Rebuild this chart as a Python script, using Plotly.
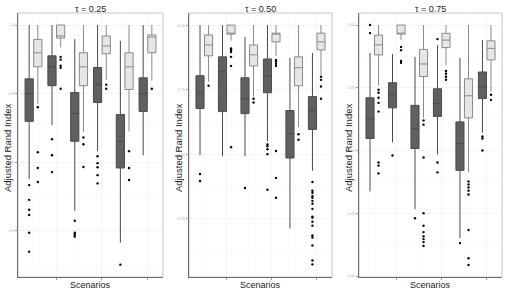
import plotly.graph_objects as go

# ---------------- data ----------------
scenarios = [1, 2, 3, 4, 5, 6]
tau_labels = ["τ = 0.25", "τ = 0.50", "τ = 0.75"]

# tau = 0.25
t25_dark_lo = [0.551, 0.708, 0.458, 0.632, 0.365, 0.620]
t25_dark_q1 = [0.719, 0.823, 0.661, 0.774, 0.583, 0.748]
t25_dark_med = [0.800, 0.878, 0.742, 0.826, 0.661, 0.800]
t25_dark_q3 = [0.843, 0.910, 0.803, 0.876, 0.739, 0.846]
t25_dark_hi = [1.000, 1.000, 0.959, 1.000, 0.954, 1.000]
t25_dark_out = [[0.533, 0.49, 0.461, 0.446, 0.394, 0.339], [0.667, 0.62, 0.571],
                [0.429, 0.394, 0.389, 0.383], [0.617, 0.597, 0.585, 0.562, 0.538],
                [0.301], []]
t25_light_lo = [0.770, 0.935, 0.687, 0.840, 0.690, 0.838]
t25_light_q1 = [0.878, 0.962, 0.823, 0.916, 0.812, 0.919]
t25_light_med = [0.919, 0.968, 0.878, 0.939, 0.878, 0.965]
t25_light_q3 = [0.958, 1.000, 0.919, 0.968, 0.919, 0.971]
t25_light_hi = [1.000, 1.000, 1.000, 1.000, 1.000, 1.000]
t25_light_out = [[0.76, 0.629, 0.583, 0.542], [0.907, 0.899, 0.881, 0.875, 0.814],
                 [0.672, 0.652, 0.586], [0.826, 0.814], [0.632, 0.583, 0.548], [0.814]]

# tau = 0.50
t50_dark_lo = [0.496, 0.492, 0.492, 0.550, 0.212, 0.435]
t50_dark_q1 = [0.677, 0.665, 0.657, 0.738, 0.485, 0.596]
t50_dark_med = [0.738, 0.819, 0.715, 0.804, 0.580, 0.669]
t50_dark_q3 = [0.804, 0.877, 0.796, 0.869, 0.669, 0.723]
t50_dark_hi = [1.000, 1.000, 0.954, 1.000, 0.873, 0.892]
t50_dark_out = [[0.423, 0.396], [], [0.369], [0.538, 0.531, 0.519, 0.5, 0.362], [],
                [0.392, 0.358, 0.35, 0.338, 0.331, 0.319, 0.308, 0.288, 0.258, 0.254,
                 0.238, 0.223, 0.185, 0.177, 0.146, 0.088, 0.073]]
t50_light_lo = [0.780, 0.940, 0.723, 0.880, 0.604, 0.808]
t50_light_q1 = [0.881, 0.965, 0.842, 0.935, 0.765, 0.904]
t50_light_med = [0.923, 0.969, 0.885, 0.965, 0.835, 0.935]
t50_light_q3 = [0.962, 1.000, 0.923, 0.969, 0.877, 0.969]
t50_light_hi = [1.000, 1.000, 1.000, 1.000, 1.000, 1.000]
t50_light_out = [[0.765], [0.91, 0.904, 0.896, 0.877, 0.842, 0.527], [0.715, 0.70],
                 [0.865, 0.858, 0.85, 0.842, 0.512, 0.408, 0.331], [0.577, 0.556],
                 [0.8, 0.788, 0.762, 0.715]]

# tau = 0.75
t75_dark_lo = [0.337, 0.532, 0.266, 0.484, 0.151, 0.571]
t75_dark_q1 = [0.548, 0.670, 0.508, 0.636, 0.421, 0.707]
t75_dark_med = [0.627, 0.722, 0.587, 0.687, 0.527, 0.754]
t75_dark_q3 = [0.710, 0.770, 0.680, 0.746, 0.614, 0.813]
t75_dark_hi = [0.889, 0.885, 0.873, 0.920, 0.869, 0.940]
t75_dark_out = [[1.0, 0.968], [0.48], [0.23], [0.944, 0.452, 0.413], [0.131],
                [0.556, 0.548, 0.5]]
t75_light_lo = [0.758, 0.940, 0.630, 0.840, 0.413, 0.735]
t75_light_q1 = [0.881, 0.964, 0.795, 0.910, 0.630, 0.861]
t75_light_med = [0.921, 0.968, 0.845, 0.940, 0.718, 0.907]
t75_light_q3 = [0.960, 1.000, 0.903, 0.967, 0.786, 0.937]
t75_light_hi = [1.000, 1.000, 1.000, 1.000, 1.000, 1.000]
t75_light_out = [[0.742, 0.73, 0.71, 0.69, 0.655, 0.452, 0.44, 0.409],
                 [0.913, 0.9, 0.857, 0.85],
                 [0.62, 0.603, 0.472, 0.25, 0.2, 0.175, 0.158, 0.147, 0.135, 0.12],
                 [0.817, 0.806, 0.794, 0.782],
                 [0.377, 0.365, 0.353, 0.34, 0.325, 0.183, 0.071, 0.044],
                 [0.722, 0.702]]

y_ticks_25 = [0.4, 0.6, 0.8, 1.0]
y_ticks_50 = [0.25, 0.50, 0.75, 1.00]
y_ticks_75 = [0.00, 0.25, 0.50, 0.75, 1.00]

# ---------------- styling ----------------
W, H = 507, 292
FONT = "Liberation Sans, Arial, sans-serif"
DARK_FILL, DARK_LINE = "#606060", "#4a4a4a"
LIGHT_FILL, LIGHT_LINE = "#e6e6e6", "#8a8a8a"
DODGE, BOXW = 0.19, 0.36

panels = [
    dict(dark=(t25_dark_lo, t25_dark_q1, t25_dark_med, t25_dark_q3, t25_dark_hi, t25_dark_out),
         light=(t25_light_lo, t25_light_q1, t25_light_med, t25_light_q3, t25_light_hi, t25_light_out),
         ticks=y_ticks_25, fmt=".1f", dtick_minor=0.1, yr=[0.265, 1.035], px=(18, 163)),
    dict(dark=(t50_dark_lo, t50_dark_q1, t50_dark_med, t50_dark_q3, t50_dark_hi, t50_dark_out),
         light=(t50_light_lo, t50_light_q1, t50_light_med, t50_light_q3, t50_light_hi, t50_light_out),
         ticks=y_ticks_50, fmt=".2f", dtick_minor=0.125, yr=[0.024, 1.047], px=(189, 332)),
    dict(dark=(t75_dark_lo, t75_dark_q1, t75_dark_med, t75_dark_q3, t75_dark_hi, t75_dark_out),
         light=(t75_light_lo, t75_light_q1, t75_light_med, t75_light_q3, t75_light_hi, t75_light_out),
         ticks=y_ticks_75, fmt=".2f", dtick_minor=0.125, yr=[-0.004, 1.048], px=(359, 502)),
]

top_px, bot_px = 13, 277
fig = go.Figure()
layout = dict(width=W, height=H, margin=dict(l=0, r=0, t=0, b=0),
              paper_bgcolor="white", plot_bgcolor="white", showlegend=False,
              font=dict(family=FONT, color="#1a1a1a"), annotations=[], shapes=[])

for i, p in enumerate(panels):
    n = "" if i == 0 else str(i + 1)
    xa, ya = "x" + n, "y" + n
    for key, off, fill, line in (("dark", -DODGE, DARK_FILL, DARK_LINE),
                                 ("light", DODGE, LIGHT_FILL, LIGHT_LINE)):
        lo, q1, med, q3, hi, out = p[key]
        pos = [s + off for s in scenarios]
        fig.add_trace(go.Box(x=pos, q1=q1, median=med, q3=q3, lowerfence=lo, upperfence=hi,
                             width=BOXW, whiskerwidth=0, fillcolor=fill,
                             line=dict(color=line, width=1), boxpoints=False,
                             xaxis=xa, yaxis=ya, hoverinfo="skip"))
        ox, oy = [], []
        for s, vals in zip(pos, out):
            for v in vals:
                ox.append(s)
                oy.append(v)
        fig.add_trace(go.Scatter(x=ox, y=oy, mode="markers", xaxis=xa, yaxis=ya,
                                 marker=dict(color="black", size=2.4), hoverinfo="skip"))
    x0, x1 = p["px"]
    dom_x = [x0 / W, x1 / W]
    dom_y = [1 - bot_px / H, 1 - top_px / H]
    layout["xaxis" + n] = dict(domain=dom_x, anchor=ya, range=[0.32, 6.68],
                               tickvals=[2, 4, 6], showticklabels=False,
                               ticks="outside", ticklen=2, tickcolor="#999999",
                               showgrid=True, gridcolor="#f0f0f0", gridwidth=0.6,
                               minor=dict(tickvals=[1, 3, 5], showgrid=True,
                                          gridcolor="#f6f6f6", gridwidth=0.5),
                               showline=True, linecolor="#6e6e6e", linewidth=1,
                               zeroline=False)
    layout["yaxis" + n] = dict(domain=dom_y, anchor=xa, range=p["yr"],
                               tickvals=p["ticks"], tickformat=p["fmt"],
                               tickfont=dict(size=4, color="#b0b0b0"),
                               ticks="outside", ticklen=2, tickcolor="#999999",
                               showgrid=True, gridcolor="#f0f0f0", gridwidth=0.6,
                               minor=dict(dtick=p["dtick_minor"], tick0=0, showgrid=True,
                                          gridcolor="#f6f6f6", gridwidth=0.5),
                               showline=True, linecolor="#6e6e6e", linewidth=1,
                               zeroline=False)
    # light panel border (top / right)
    layout["shapes"].append(dict(type="rect", xref=xa + " domain", yref=ya + " domain",
                                 x0=0, x1=1, y0=0, y1=1, line=dict(color="#c4c4c4", width=1),
                                 layer="below"))
    cx = (x0 + x1) / 2 / W
    common = dict(xref="paper", yref="paper", showarrow=False,
                  xanchor="center", yanchor="middle")
    layout["annotations"].append(dict(text=tau_labels[i], x=cx, y=1 - 9 / H,
                                      font=dict(size=9), **common))
    layout["annotations"].append(dict(text="Scenarios", x=cx, y=1 - 285 / H,
                                      font=dict(size=9), **common))
    layout["annotations"].append(dict(text="Adjusted Rand Index", x=(x0 - 11) / W,
                                      y=1 - 148 / H, textangle=-90,
                                      font=dict(size=9.5), **common))

fig.update_layout(**layout)
fig.write_html("out.html", config={"displayModeBar": False, "staticPlot": True},
               post_script="document.body.style.margin='0';"
                           "document.body.style.overflow='hidden';")
